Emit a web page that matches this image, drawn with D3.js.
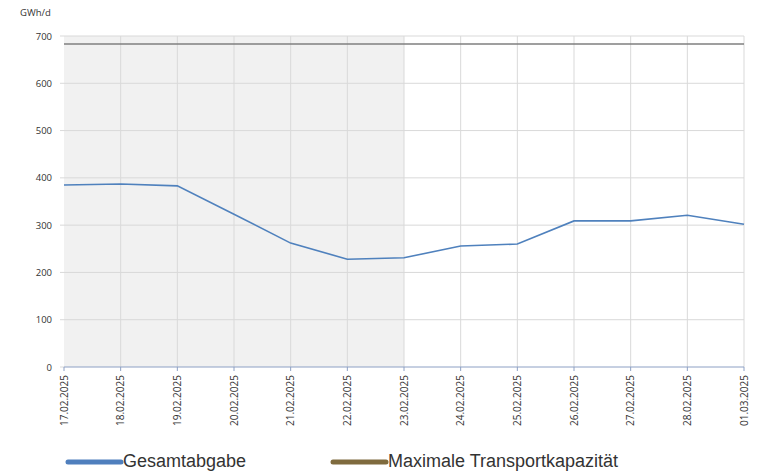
<!DOCTYPE html>
<html>
<head>
<meta charset="utf-8">
<script src="https://cdn.jsdelivr.net/npm/d3@7"></script>
<style>
body { margin: 0; background: #fff; }
svg { display: block; }
</style>
</head>
<body>
<script>
var width = 757, height = 476;
var left = 64, right = 744, top_y = 36, bottom_y = 367;

var dates = ['17.02.2025','18.02.2025','19.02.2025','20.02.2025','21.02.2025','22.02.2025','23.02.2025',
             '24.02.2025','25.02.2025','26.02.2025','27.02.2025','28.02.2025','01.03.2025'];
var gesamtabgabe = [385, 387, 383, 323, 262, 228, 231, 256, 260, 309, 309, 321, 302];
var maxKapazitaet = 683;
var yTicks = [0, 100, 200, 300, 400, 500, 600, 700];
var shadeFrom = '17.02.2025', shadeTo = '23.02.2025';

var svg = d3.select('body').append('svg').attr('width', width).attr('height', height);

var xScale = d3.scalePoint().domain(dates).range([left, right]);
var yScale = d3.scaleLinear().domain([0, 700]).range([bottom_y, top_y]);

// shaded past period
svg.append('rect')
  .attr('x', xScale(shadeFrom))
  .attr('y', yScale(700))
  .attr('width', xScale(shadeTo) - xScale(shadeFrom))
  .attr('height', yScale(0) - yScale(700))
  .attr('fill', '#f1f1f1');

// grid lines
svg.append('g').selectAll('line').data(yTicks.filter(d => d > 0))
  .enter().append('line')
  .attr('x1', left).attr('x2', right)
  .attr('y1', d => yScale(d)).attr('y2', d => yScale(d))
  .attr('stroke', '#d9d9d9').attr('stroke-width', 1);
svg.append('g').selectAll('line').data(dates.slice(1))
  .enter().append('line')
  .attr('x1', d => xScale(d)).attr('x2', d => xScale(d))
  .attr('y1', yScale(700)).attr('y2', yScale(0))
  .attr('stroke', '#d9d9d9').attr('stroke-width', 1);

// y axis labels
svg.append('g').selectAll('text').data(yTicks)
  .enter().append('text')
  .attr('x', 52).attr('y', d => yScale(d) + 3.5)
  .attr('text-anchor', 'end')
  .style('font-family', 'Open Sans, sans-serif').style('font-size', '9.5px').attr('fill', '#333')
  .text(d => d);
svg.append('g').selectAll('line').data(yTicks)
  .enter().append('line')
  .attr('x1', left - 4).attr('x2', left)
  .attr('y1', d => yScale(d)).attr('y2', d => yScale(d))
  .attr('stroke', '#d9d9d9');

svg.append('text')
  .attr('x', 20).attr('y', 16)
  .style('font-family', 'Open Sans, sans-serif').style('font-size', '9.5px').attr('fill', '#333')
  .text('GWh/d');

// x axis
svg.append('line')
  .attr('x1', left).attr('x2', right)
  .attr('y1', yScale(0)).attr('y2', yScale(0))
  .attr('stroke', '#8da0c4').attr('stroke-width', 1);
svg.append('g').selectAll('line').data(dates)
  .enter().append('line')
  .attr('x1', d => xScale(d)).attr('x2', d => xScale(d))
  .attr('y1', yScale(0)).attr('y2', yScale(0) + 4)
  .attr('stroke', '#8da0c4');
svg.append('g').selectAll('text').data(dates)
  .enter().append('text')
  .attr('transform', d => 'translate(' + (xScale(d) + 3.5) + ',' + (yScale(0) + 8) + ') rotate(-90)')
  .attr('text-anchor', 'end')
  .style('font-family', 'Open Sans, sans-serif').style('font-size', '10px').attr('fill', '#333')
  .text(d => d);

// max capacity line
svg.append('line')
  .attr('x1', left).attr('x2', right)
  .attr('y1', yScale(maxKapazitaet)).attr('y2', yScale(maxKapazitaet))
  .attr('stroke', '#7f7f7f').attr('stroke-width', 1.5);

// Gesamtabgabe line
var line = d3.line().x((d, i) => xScale(dates[i])).y(d => yScale(d));
svg.append('path').datum(gesamtabgabe)
  .attr('d', line)
  .attr('fill', 'none')
  .attr('stroke', '#4f81bd')
  .attr('stroke-width', 1.6);

// legend
var legend = [
  {name: 'Gesamtabgabe', color: '#4f7fbd', x: 66},
  {name: 'Maximale Transportkapazität', color: '#7f6b3e', x: 331}
];
var lg = svg.append('g').selectAll('g').data(legend).enter().append('g');
lg.append('line')
  .attr('x1', d => d.x + 2).attr('x2', d => d.x + 55)
  .attr('y1', 462).attr('y2', 462)
  .attr('stroke', d => d.color).attr('stroke-width', 5).attr('stroke-linecap', 'round');
lg.append('text')
  .attr('x', d => d.x + 57).attr('y', 467)
  .style('font-family', 'Liberation Sans, Arial, sans-serif').style('font-size', '18px').attr('fill', '#333')
  .text(d => d.name);
</script>
</body>
</html>
